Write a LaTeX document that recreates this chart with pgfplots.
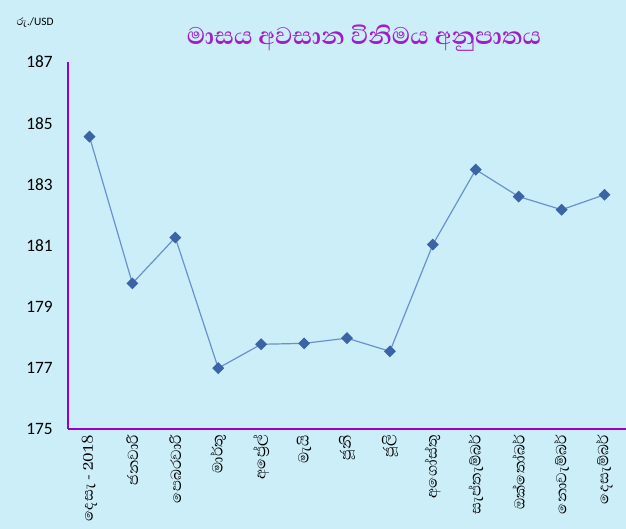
\documentclass[border=0pt]{standalone}
\usepackage{pgfplots}
\pgfplotsset{compat=1.18}
\usepackage{fontspec}
\setmainfont{Carlito}
\newfontfamily\sinhfont[Script=Sinhala]{Abhaya Libre}
\definecolor{bgc}{RGB}{204,238,249}
\definecolor{titlec}{RGB}{160,30,200}
\definecolor{axc}{RGB}{153,0,204}
\definecolor{linec}{RGB}{105,145,205}
\definecolor{markc}{RGB}{58,100,165}
\begin{document}
\begin{tikzpicture}
\fill[bgc] (0pt,0pt) rectangle (469.5pt,396.75pt);
\useasboundingbox (0pt,0pt) rectangle (469.5pt,396.75pt);
\node[anchor=center,text=titlec,font=\sinhfont\fontsize{23}{26}\selectfont\bfseries] at (273pt,368pt) {මාසය අවසාන විනිමය අනුපාතය};
\node[anchor=west,font=\fontsize{8.5}{10}\selectfont] at (9pt,380pt) {{\sinhfont\fontsize{10}{10}\selectfont රු.}/USD};
\begin{axis}[
  at={(51pt,75pt)}, anchor=south west,
  scale only axis, width=418.5pt, height=275.25pt,
  xmin=-0.5, xmax=12.5, ymin=175, ymax=187,
  ytick={175,177,...,187},
  xtick={0,...,12},
  xticklabels={{දෙසැ - 2018},ජනවාරි,පෙබරවාරි,මාර්තු,අප්‍රේල්,මැයි,ජූනි,ජූලි,අගෝස්තු,සැප්තැම්බර්,ඔක්තෝබර්,නොවැම්බර්,දෙසැම්බර්},
  x tick label style={rotate=90, anchor=east, font=\sinhfont\fontsize{14}{15}\selectfont, xshift=-1pt},
  y tick label style={font=\fontsize{13}{15}\selectfont, xshift=-8pt},
  /pgf/number format/assume math mode=true,
  axis x line*=bottom, axis y line*=left,
  axis line style={axc, line width=0.8pt, -},
  major tick length=0pt,
  clip=false,
]
\addplot[linec, line width=0.9pt, mark=square*, mark size=2.7pt, mark options={fill=markc, draw=markc, rotate=45}]
coordinates {
(0,184.56) (1,179.76) (2,181.26) (3,176.99) (4,177.77) (5,177.80) (6,177.97) (7,177.54) (8,181.03) (9,183.48) (10,182.60) (11,182.17) (12,182.66)
};
\end{axis}
\end{tikzpicture}
\end{document}
